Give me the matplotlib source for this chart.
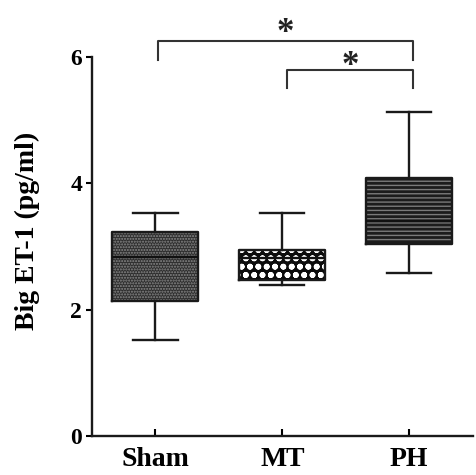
import numpy as np
import matplotlib
matplotlib.use("Agg")
import matplotlib.pyplot as plt

# groups and box statistics (pg/ml)
groups = ["Sham", "MT", "PH"]
whisker_lo = [1.52, 2.39, 2.58]
q1 = [2.14, 2.47, 3.04]
median = [2.84, 2.82, 3.41]
q3 = [3.23, 2.94, 4.08]
whisker_hi = [3.53, 3.53, 5.13]

# significance brackets: (left x, right x, bar height, left drop, right drop)
brackets = [(1.02, 3.03, 6.25, 5.95, 5.95), (2.04, 3.03, 5.79, 5.51, 5.51)]
stars = ["*", "*"]
star_y = [6.23, 5.71]

face = ["#2e2e2e", "#0c0c0c", "#1c1c1c"]
hatch = ["......", "oo", "----"]
hatch_col = ["#8a8a8a", "#ffffff", "#7a7a7a"]
hatch_lw = [1.0, 1.8, 1.0]

plt.rcParams["font.family"] = ["Liberation Serif", "DejaVu Serif"]
plt.rcParams["font.weight"] = "bold"

fig = plt.figure(figsize=(4.76, 4.75), dpi=100)
ax = fig.add_axes([0.193, 0.082, 0.80, 0.798])

stats = []
for i, g in enumerate(groups):
    stats.append(dict(label=g, whislo=whisker_lo[i], q1=q1[i], med=median[i],
                      q3=q3[i], whishi=whisker_hi[i], fliers=[]))

pos = np.arange(1, len(groups) + 1)

# filled, hatched boxes
bp = ax.bxp(stats, positions=pos, widths=0.68, patch_artist=True,
            showcaps=False, boxprops=dict(linewidth=0),
            whiskerprops=dict(linewidth=0), medianprops=dict(linewidth=0))
for i, p in enumerate(bp["boxes"]):
    p.set_facecolor(face[i])
    p.set_edgecolor(hatch_col[i])
    p.set_hatch(hatch[i])
    if hasattr(p, "set_hatch_linewidth"):
        p.set_hatch_linewidth(hatch_lw[i])

# outlines, whiskers, caps, medians
lw = 1.7
ax.bxp(stats, positions=pos, widths=0.68, capwidths=0.35,
       boxprops=dict(linewidth=lw, color="#1a1a1a"),
       whiskerprops=dict(linewidth=lw, color="#1a1a1a"),
       capprops=dict(linewidth=lw, color="#1a1a1a"),
       medianprops=dict(linewidth=lw, color="#111111"))

for (x0, x1, h, d0, d1), s, sy in zip(brackets, stars, star_y):
    ax.plot([x0, x0, x1, x1], [d0, h, h, d1], color="#333333", lw=1.5,
            clip_on=False)
    ax.text((x0 + x1) / 2, sy, s, ha="center", va="baseline",
            fontsize=25, fontweight="bold", color="#222222")

ax.set_xlim(0.5, 3.5)
ax.set_ylim(0, 6)
ax.set_yticks([0, 2, 4, 6])
ax.set_xticks(pos)
ax.set_xticklabels(groups)
ax.spines["top"].set_visible(False)
ax.spines["right"].set_visible(False)
for sp in ("left", "bottom"):
    ax.spines[sp].set_linewidth(1.7)
    ax.spines[sp].set_color("#1a1a1a")
ax.tick_params(axis="y", direction="out", length=4, width=1.5, pad=3,
               labelsize=17)
ax.tick_params(axis="x", direction="in", length=5, width=1.5, pad=8,
               labelsize=20)
ax.set_ylabel("Big ET-1 (pg/ml)", fontsize=20, fontweight="bold")
ax.yaxis.set_label_coords(-0.137, 0.54)

fig.savefig("out.png", dpi=100)
